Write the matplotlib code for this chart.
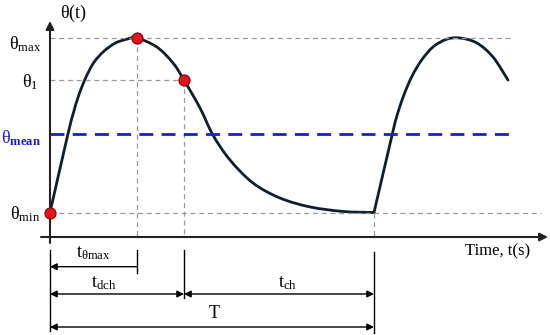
import matplotlib.pyplot as plt
from matplotlib.path import Path
from matplotlib.patches import PathPatch

plt.rcParams['font.family'] = ['Liberation Serif', 'DejaVu Serif']
plt.rcParams['mathtext.fontset'] = 'custom'
plt.rcParams['mathtext.rm'] = 'Liberation Serif'
plt.rcParams['mathtext.bf'] = 'Liberation Serif:bold'

# one period T = 100 (s); theta normalised so theta_min = 0, theta_max = 1
t_cycle1 = [0, 5.46, 7.19, 8.73, 10.8, 13.36, 16.45, 20.06, 23.67, 26.85, 33.0, 37.96,
            41.36, 46.3, 50.3, 55.56, 62.65, 70.99, 80.25, 90.43, 100]
theta_cycle1 = [0, 0.444, 0.568, 0.664, 0.763, 0.855, 0.921, 0.97, 0.993, 1.0, 0.948,
                0.857, 0.759, 0.599, 0.444, 0.301, 0.169, 0.083, 0.032, 0.006, 0]
t_cycle2 = [100, 105.46, 107.0, 109.04, 111.64, 114.72, 118.3, 122.44, 126.54, 131.79,
            136.73, 141.36]
theta_cycle2 = [0, 0.434, 0.549, 0.664, 0.778, 0.874, 0.95, 0.993, 1.0, 0.971,
                0.891, 0.759]

t_theta_max = 26.85
t_dch = 41.36
T = 100
theta_min = 0
theta_max = 1.0
theta_1 = 0.759
theta_mean = 0.448


# pixel -> data helpers (only for placing annotations)
def tx(px):
    return (px - 50) * 100 / 324


def ty(py):
    return (212.5 - py) / 174.5


def smooth(xs, ys):
    # cubic bezier through every point (catmull-rom tangents)
    pts = list(zip(xs, ys))
    verts = [pts[0]]
    codes = [Path.MOVETO]
    n = len(pts)
    for i in range(n - 1):
        p0 = pts[max(i - 1, 0)]
        p1 = pts[i]
        p2 = pts[i + 1]
        p3 = pts[min(i + 2, n - 1)]
        c1 = (p1[0] + (p2[0] - p0[0]) / 6, p1[1] + (p2[1] - p0[1]) / 6)
        c2 = (p2[0] - (p3[0] - p1[0]) / 6, p2[1] - (p3[1] - p1[1]) / 6)
        verts += [c1, c2, p2]
        codes += [Path.CURVE4] * 3
    return Path(verts, codes)


fig = plt.figure(figsize=(5.5, 3.35), dpi=100)
ax = fig.add_axes([0, 0, 1, 1])
ax.set_xlim(tx(0), tx(550))
ax.set_ylim(ty(335), ty(0))
ax.axis('off')

grey = dict(color='#9a9a9a', lw=0.9, ls=(0, (4, 3)))
# guide lines
ax.plot([0, tx(510)], [theta_max, theta_max], **grey)
ax.plot([0, t_dch], [theta_1, theta_1], **grey)
ax.plot([0, tx(541)], [theta_min, theta_min], **grey)
ax.plot([t_theta_max, t_theta_max], [theta_max, ty(237)], **grey)
ax.plot([t_dch, t_dch], [theta_1, ty(237)], **grey)
ax.plot([T, T], [theta_min, ty(237)], **grey)

# mean line
ax.plot([0, tx(515)], [theta_mean, theta_mean], color='#1a1ae6', lw=2, ls=(0, (5, 3)))

# axes
axis_kw = dict(arrowstyle='-|>', color='#222222', lw=1.5, mutation_scale=12,
               shrinkA=0, shrinkB=0)
ax.annotate('', xy=(0, ty(21)), xytext=(0, ty(243)), arrowprops=axis_kw)
ax.annotate('', xy=(tx(548), ty(237)), xytext=(tx(41), ty(237)), arrowprops=axis_kw)

# curve
for tc, thc in [(t_cycle1, theta_cycle1), (t_cycle2, theta_cycle2)]:
    ax.add_patch(PathPatch(smooth(tc, thc), fill=False, edgecolor='#0f1f2e', lw=2,
                           joinstyle='round', capstyle='round'))
ax.plot([0, t_theta_max, t_dch], [theta_min, theta_max, theta_1], 'o', ms=8,
        mfc='#e8101a', mec='#7a0a0a', mew=0.8, zorder=5)

# dimension lines
for x, y0, y1 in [(0, 250, 331), (t_theta_max, 250, 273), (t_dch, 250, 298), (T, 252, 333)]:
    ax.plot([x, x], [ty(y0), ty(y1)], color='black', lw=1)


def dim(x0, x1, y, style):
    ax.annotate('', xy=(x1, ty(y)), xytext=(x0, ty(y)),
                arrowprops=dict(arrowstyle=style, color='black', lw=1,
                                mutation_scale=10, shrinkA=0, shrinkB=0))


dim(t_theta_max, 0, 266.7, '-|>')
dim(0, t_dch, 294, '<|-|>')
dim(t_dch, T, 294, '<|-|>')
dim(0, T, 327, '<|-|>')

fs = 13
ax.text(tx(73), ty(13), r'$\mathrm{θ(t)}$', fontsize=fs, ha='center', va='center')
ax.text(tx(41), ty(44), r'$\mathrm{θ_{max}}$', fontsize=fs, ha='right', va='center')
ax.text(tx(38), ty(82), r'$\mathrm{θ_{1}}$', fontsize=fs, ha='right', va='center')
ax.text(tx(41), ty(138), r'$\mathrm{θ_{\mathbf{mean}}}$', fontsize=fs, ha='right',
        va='center', color='#1a1ae6')
ax.text(tx(40), ty(214), r'$\mathrm{θ_{min}}$', fontsize=fs, ha='right', va='center')
ax.text(tx(498), ty(251), 'Time, t(s)', fontsize=12, ha='center', va='center')
ax.text(tx(93), ty(253), r'$\mathrm{t_{θmax}}$', fontsize=fs, ha='center', va='center')
ax.text(tx(104), ty(283), r'$\mathrm{t_{dch}}$', fontsize=fs, ha='center', va='center')
ax.text(tx(287), ty(283), r'$\mathrm{t_{ch}}$', fontsize=fs, ha='center', va='center')
ax.text(tx(214), ty(314), 'T', fontsize=fs, ha='center', va='center')

fig.savefig('out.png', dpi=100)
